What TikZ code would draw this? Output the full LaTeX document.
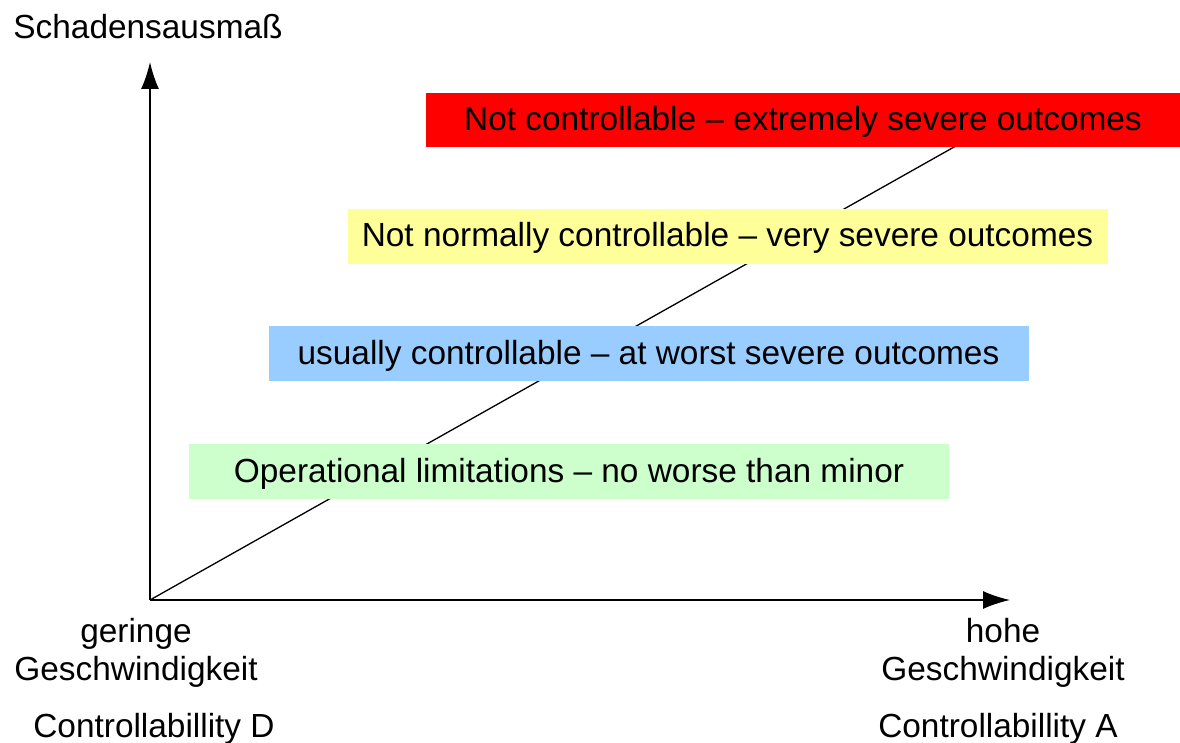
\documentclass[tikz,border=0pt]{standalone}
\usepackage{fontspec}
\setmainfont{Liberation Sans}
\usetikzlibrary{arrows.meta,positioning}

\definecolor{boxred}{HTML}{FF0000}
\definecolor{boxyellow}{HTML}{FFFF99}
\definecolor{boxblue}{HTML}{99CCFF}
\definecolor{boxgreen}{HTML}{CCFFCC}

\begin{document}
\begin{tikzpicture}[
		x=1pt,y=-1pt,
		>={Latex[length=27pt,width=18pt]},
		level/.style={minimum width=760pt,minimum height=55pt,inner sep=0pt,text height=28pt,text depth=7pt,font=\fontsize{33.4}{38}\selectfont},
		lbl/.style={font=\fontsize{33.4}{38}\selectfont,inner sep=0pt,align=center}
	]
	\useasboundingbox (0,0) rectangle (1180,743);

	\coordinate (o) at (150,600);
	\coordinate (ytip) at (150,62);
	\coordinate (xtip) at (1010,600);
	\coordinate (ltop) at (1002,120);

	% diagonal first, boxes go over it
	\draw[line width=1.3pt] (o) -- (ltop);

	\draw[->,line width=1.5pt] (o) -- (ytip);
	\draw[->,line width=1.5pt] (o) -- (xtip);

	\node[level,fill=boxred,minimum width=754pt,minimum height=54pt] (lvA) at (803,120) {Not controllable -- extremely severe outcomes};
	\node[level,fill=boxyellow] (lvB) at (727.5,236.5) {Not normally controllable -- very severe outcomes};
	\node[level,fill=boxblue] (lvC) at (648.5,353.5) {usually controllable -- at worst severe outcomes};
	\node[level,fill=boxgreen] (lvD) at (569,471.5) {Operational limitations -- no worse than minor};

	\node[lbl] (yname) at (148,27) {Schadensausmaß};
	\node[lbl] (low) at (136,652.5) {geringe\\Geschwindigkeit};
	\node[lbl] (high) at (1003,652.5) {hohe\\Geschwindigkeit};
	\node[lbl] (ctrlD) at (154,729) {Controllabillity D};
	\node[lbl] (ctrlA) at (998,729) {Controllabillity A};
\end{tikzpicture}
\end{document}
